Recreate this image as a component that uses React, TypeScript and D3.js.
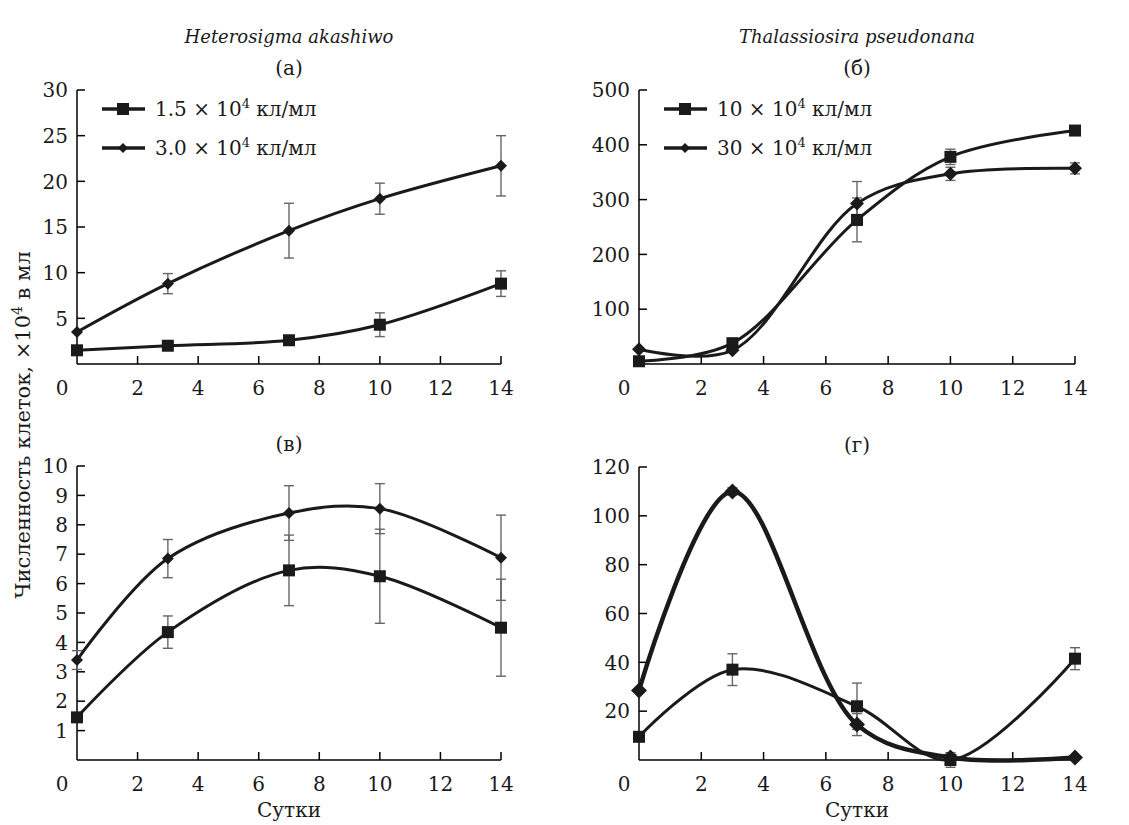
import React from "react";
import * as d3 from "d3";

// сутки отбора проб
const days = [0, 3, 7, 10, 14];
const xTicks = [2, 4, 6, 8, 10, 12, 14];

// (а) Heterosigma akashiwo
const aLow = [1.5, 2.0, 2.6, 4.3, 8.8];
const aLowErr = [0, 0, 0, 1.3, 1.4];
const aHigh = [3.5, 8.8, 14.6, 18.1, 21.7];
const aHighErr = [0, 1.1, 3.0, 1.7, 3.3];
const aTicks = [5, 10, 15, 20, 25, 30];

// (б) Thalassiosira pseudonana
const bLow = [5, 38, 263, 378, 426];
const bLowErr = [0, 0, 40, 14, 0];
const bHigh = [27, 25, 293, 347, 357];
const bHighErr = [0, 0, 40, 12, 10];
const bTicks = [100, 200, 300, 400, 500];

// (в) Heterosigma akashiwo
const cLow = [1.45, 4.35, 6.45, 6.25, 4.5];
const cLowErr = [0, 0.55, 1.2, 1.6, 1.65];
const cHigh = [3.4, 6.85, 8.4, 8.55, 6.88];
const cHighErr = [0.32, 0.65, 0.93, 0.85, 1.45];
const cTicks = [1, 2, 3, 4, 5, 6, 7, 8, 9, 10];

// (г) Thalassiosira pseudonana
const dLow = [9.5, 37, 22, 0, 41.5];
const dLowErr = [0, 6.5, 9.5, 3, 4.5];
const dHigh = [28.5, 110, 14.5, 1, 1];
const dHighErr = [0, 1.5, 4.5, 2, 0];
const dTicks = [20, 40, 60, 80, 100, 120];

const aLegend = ["1.5 × 10", "3.0 × 10"];
const bLegend = ["10 × 10", "30 × 10"];

const FONT = "DejaVu Serif, Liberation Serif, serif";

type PanelProps = {
  left: number; right: number; top: number; bottom: number;
  yMax: number; yTicks: number[];
  low: number[]; lowErr: number[]; high: number[]; highErr: number[];
  label: string; title?: string; legend?: string[];
  lowWidth?: number; highWidth?: number; diamond?: number;
};

function Panel(p: PanelProps) {
  const x = d3.scaleLinear().domain([0, 14]).range([p.left, p.right]);
  const y = d3.scaleLinear().domain([0, p.yMax]).range([p.bottom, p.top]);
  const line = d3
    .line<number>()
    .x((_, i) => x(days[i]))
    .y((v) => y(v))
    .curve(d3.curveCatmullRom.alpha(0.5));

  const errBars = (vals: number[], errs: number[], key: string) =>
    vals.map((v, i) =>
      errs[i] > 0 ? (
        <g key={key + i} stroke="#666" strokeWidth={1.4}>
          <line x1={x(days[i])} x2={x(days[i])} y1={y(v - errs[i])} y2={y(v + errs[i])} />
          <line x1={x(days[i]) - 5} x2={x(days[i]) + 5} y1={y(v + errs[i])} y2={y(v + errs[i])} />
          <line x1={x(days[i]) - 5} x2={x(days[i]) + 5} y1={y(v - errs[i])} y2={y(v - errs[i])} />
        </g>
      ) : null
    );

  const dm = p.diamond ?? 6;
  const diamondPath = (cx: number, cy: number, r: number) =>
    `M${cx},${cy - r}L${cx + r},${cy}L${cx},${cy + r}L${cx - r},${cy}Z`;

  return (
    <g>
      {/* оси */}
      <line x1={p.left} x2={p.left} y1={y(p.yMax)} y2={p.bottom} stroke="#000" strokeWidth={1.5} />
      <line x1={p.left} x2={p.right} y1={p.bottom} y2={p.bottom} stroke="#000" strokeWidth={1.5} />
      {p.yTicks.map((t) => (
        <g key={"y" + t}>
          <line x1={p.left} x2={p.left + 8} y1={y(t)} y2={y(t)} stroke="#000" strokeWidth={1.5} />
          <text x={p.left - 9} y={y(t)} dy="0.36em" textAnchor="end" fontSize={20}>
            {t}
          </text>
        </g>
      ))}
      {xTicks.map((t) => (
        <g key={"x" + t}>
          <line x1={x(t)} x2={x(t)} y1={p.bottom} y2={p.bottom - 8} stroke="#000" strokeWidth={1.5} />
          <text x={x(t)} y={p.bottom + 31} textAnchor="middle" fontSize={20}>
            {t}
          </text>
        </g>
      ))}
      <text x={x(0) - 15} y={p.bottom + 31} textAnchor="middle" fontSize={20}>
        0
      </text>
      <text x={x(7)} y={p.top - 15} textAnchor="middle" fontSize={20}>
        {p.label}
      </text>
      {p.title && (
        <text x={x(7)} y={p.top - 47} textAnchor="middle" fontSize={18} fontStyle="italic">
          {p.title}
        </text>
      )}

      {errBars(p.low, p.lowErr, "le")}
      {errBars(p.high, p.highErr, "he")}
      <path d={line(p.low) ?? ""} fill="none" stroke="#1a1a1a" strokeWidth={p.lowWidth ?? 3} />
      <path d={line(p.high) ?? ""} fill="none" stroke="#1a1a1a" strokeWidth={p.highWidth ?? 3} />
      {p.low.map((v, i) => (
        <rect key={"s" + i} x={x(days[i]) - 6} y={y(v) - 6} width={12} height={12} fill="#1a1a1a" />
      ))}
      {p.high.map((v, i) => (
        <path key={"d" + i} d={diamondPath(x(days[i]), y(v), dm)} fill="#1a1a1a" />
      ))}

      {p.legend && (
        <g>
          <line x1={p.left + 25} x2={p.left + 68} y1={p.top + 19} y2={p.top + 19} stroke="#1a1a1a" strokeWidth={3.5} />
          <rect x={p.left + 40} y={p.top + 13} width={12} height={12} fill="#1a1a1a" />
          <text x={p.left + 78} y={p.top + 26} fontSize={20}>
            <tspan>{p.legend[0]}</tspan>
            <tspan dy={-8} fontSize={13}>4</tspan>
            <tspan dy={8}> кл/мл</tspan>
          </text>
          <line x1={p.left + 25} x2={p.left + 68} y1={p.top + 58} y2={p.top + 58} stroke="#1a1a1a" strokeWidth={3.5} />
          <path d={diamondPath(p.left + 46, p.top + 58, 5)} fill="#1a1a1a" />
          <text x={p.left + 78} y={p.top + 65} fontSize={20}>
            <tspan>{p.legend[1]}</tspan>
            <tspan dy={-8} fontSize={13}>4</tspan>
            <tspan dy={8}> кл/мл</tspan>
          </text>
        </g>
      )}
    </g>
  );
}

export default function App() {
  return (
    <svg
      width={1129}
      height={825}
      style={{ position: "absolute", left: 0, top: 0, background: "#fff", fontFamily: FONT }}
      fill="#1a1a1a"
    >
      <Panel left={77} right={501} top={90} bottom={364} yMax={30} yTicks={aTicks}
        low={aLow} lowErr={aLowErr} high={aHigh} highErr={aHighErr} label="(а)"
        title="Heterosigma akashiwo" legend={aLegend} />
      <Panel left={639} right={1075} top={90} bottom={364} yMax={500} yTicks={bTicks}
        low={bLow} lowErr={bLowErr} high={bHigh} highErr={bHighErr} label="(б)"
        title="Thalassiosira pseudonana" legend={bLegend} diamond={7} />
      <Panel left={77} right={501} top={466} bottom={760} yMax={10} yTicks={cTicks}
        low={cLow} lowErr={cLowErr} high={cHigh} highErr={cHighErr} label="(в)" />
      <Panel left={639} right={1075} top={467} bottom={760} yMax={120} yTicks={dTicks}
        low={dLow} lowErr={dLowErr} high={dHigh} highErr={dHighErr} label="(г)"
        highWidth={4.5} diamond={8} />

      <text x={289} y={817} textAnchor="middle" fontSize={20}>Сутки</text>
      <text x={857} y={817} textAnchor="middle" fontSize={20}>Сутки</text>

      <text transform="translate(30,425) rotate(-90)" textAnchor="middle" fontSize={21}>
        <tspan>Численность клеток, ×10</tspan>
        <tspan dy={-8} fontSize={14}>4</tspan>
        <tspan dy={8}> в мл</tspan>
      </text>
    </svg>
  );
}
